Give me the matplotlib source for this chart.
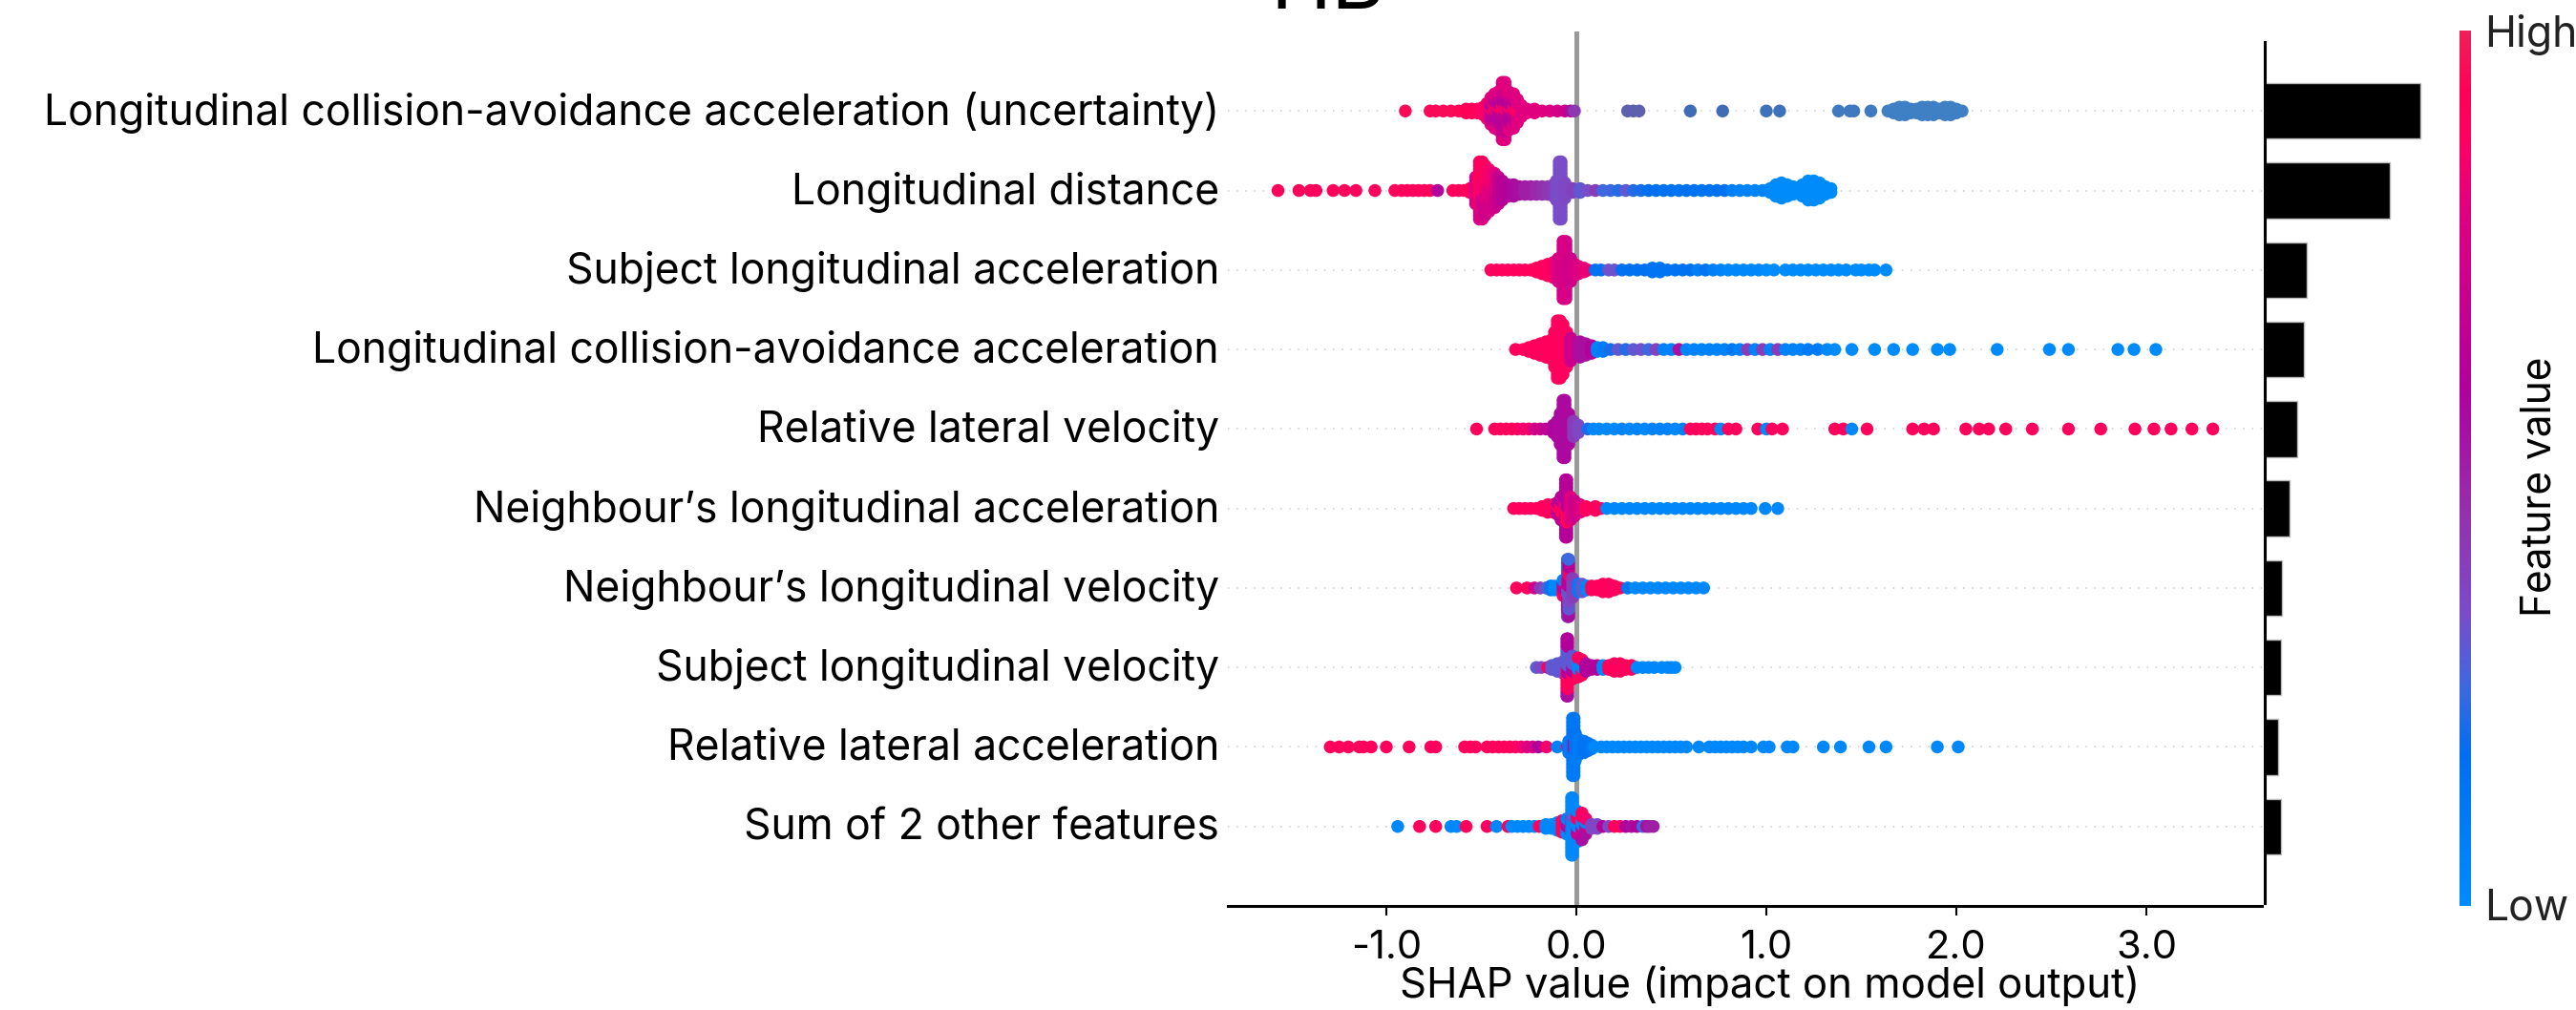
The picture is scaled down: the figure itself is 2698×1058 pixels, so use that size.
import matplotlib
matplotlib.use("Agg")
import matplotlib.pyplot as plt
import numpy as np
from matplotlib.cm import ScalarMappable
from matplotlib.colors import LinearSegmentedColormap
from matplotlib.transforms import ScaledTranslation

W, H = 2698, 1058
DPI = 100

plt.rcParams["font.family"] = ["Inter", "DejaVu Sans"]

features = [
    "Longitudinal collision-avoidance acceleration (uncertainty)",
    "Longitudinal distance",
    "Subject longitudinal acceleration",
    "Longitudinal collision-avoidance acceleration",
    "Relative lateral velocity",
    "Neighbour’s longitudinal acceleration",
    "Neighbour’s longitudinal velocity",
    "Subject longitudinal velocity",
    "Relative lateral acceleration",
    "Sum of 2 other features",
]
mean_abs_shap = [0.82, 0.66, 0.22, 0.206, 0.17, 0.13, 0.089, 0.084, 0.069, 0.084]
x_ticks = [-1.0, 0.0, 1.0, 2.0, 3.0]
x_tick_labels = ["-1.0", "0.0", "1.0", "2.0", "3.0"]

# each swarm: SHAP value of a column, points in that column, feature value
# (a list of feature values runs from the bottom of the column to the top)
r1_mix = [0.8, 0.68, 0.62, 0.66, 0.85, 0.62, 0.72, 0.8]
r1_x = [-0.90, -0.77, -0.74, -0.70, -0.66, -0.62, -0.58, -0.55, -0.52, -0.49, -0.47, -0.45, -0.43, -0.41,
        -0.39, -0.375, -0.355, -0.33, -0.31, -0.29, -0.26, -0.22, -0.18, -0.14, -0.10, -0.06, -0.03, -0.01]
r1_n = [1, 1, 1, 1, 1, 1, 2, 2, 2, 3, 5, 8, 10, 11, 16, 16, 11, 10, 7, 4, 2, 2, 1, 1, 1, 1, 1, 1]
r1_f = [0.95, 0.95, 0.95, 0.95, 0.95, 0.94, 0.93, 0.92, 0.9, 0.88, 0.85, r1_mix, r1_mix, r1_mix,
        r1_mix, r1_mix, r1_mix, r1_mix, [0.8, 0.9, 0.8], 0.8, 0.8, 0.8, 0.8, 0.78, 0.75, 0.7, 0.55, 0.42]

# far right of the top row has a duller blue than the colour scale
r1b_x = [0.27, 0.30, 0.33, 0.60, 0.77, 1.00, 1.07, 1.38, 1.44, 1.46, 1.55, 1.64, 1.67, 1.70, 1.73, 1.76,
         1.79, 1.82, 1.85, 1.88, 1.91, 1.94, 1.97, 2.00, 2.03]
r1b_n = [1, 1, 1, 1, 1, 1, 1, 1, 1, 1, 1, 1, 2, 3, 3, 2, 2, 3, 3, 3, 2, 3, 3, 2, 1]
r1b_c = ["#5d60ac", "#5d60ac", "#5d60ac", "#3f6cb4", "#3f6cb4", "#3d72ba", "#3d72ba", "#3f7ac0", "#3f7ac0",
         "#3f7ac0", "#3f7ac0", "#3f7fc4", "#3f7fc4", "#3f7fc4", "#3f7fc4", "#3f7fc4", "#3f7fc4", "#3f7fc4",
         "#3f7fc4", "#3f7fc4", "#3f7fc4", "#3f7fc4", "#3f7fc4", "#3f7fc4", "#3f7fc4"]

r2_x = [-1.57, -1.46, -1.40, -1.37, -1.28, -1.22, -1.16, -1.06, -0.955, -0.92, -0.89, -0.86, -0.83, -0.80,
        -0.77, -0.73, -0.65, -0.62, -0.59, -0.56, -0.53, -0.51, -0.495, -0.48, -0.46, -0.43, -0.41, -0.39,
        -0.36, -0.33, -0.30, -0.27, -0.24, -0.21, -0.18, -0.15, -0.12, -0.105, -0.09, -0.08, -0.06, -0.02,
        0.02, 0.06, 0.10, 0.14, 0.18, 0.22, 0.26, 0.30, 0.34, 0.38, 0.42, 0.46, 0.50, 0.54, 0.58, 0.62,
        0.66, 0.70, 0.74, 0.78, 0.82, 0.86, 0.90, 0.94, 0.98, 1.02, 1.05, 1.08, 1.11, 1.14, 1.16, 1.19,
        1.22, 1.25, 1.28, 1.31, 1.34]
r2_n = [1, 1, 1, 1, 1, 1, 1, 1, 1, 1, 1, 1, 1, 1, 1, 1, 1, 1, 1, 2, 8, 16, 16, 14, 12, 10, 8, 6, 4, 4, 3, 3,
        3, 3, 3, 3, 4, 6, 16, 16, 5, 2, 2, 1, 1, 1, 1, 1, 1, 1, 1, 1, 1, 1, 1, 1, 1, 1, 1, 1, 1, 1, 1, 1,
        1, 1, 1, 2, 4, 5, 4, 3, 2, 4, 6, 6, 5, 3, 2]
r2_f = [0.9, 0.9, 0.9, 0.9, 0.9, 0.9, 0.9, 0.9, 0.9, 0.9, 0.9, 0.9, 0.9, 0.9, 0.9, 0.6, 0.9, 0.9, 0.9, 0.9,
        0.8, [0.78, 0.84, 0.88, 0.9, 0.9], [0.78, 0.72, 0.85, 0.9, 0.9], [0.72, 0.78, 0.85, 0.9], [0.75, 0.8, 0.85],
        [0.72, 0.8], 0.68, 0.62, 0.6, 0.56, 0.55, 0.5, 0.5, 0.47, 0.45, 0.42, 0.4, 0.34, 0.335, 0.335, 0.35, 0.38,
        0.3, 0.33, 0.4, 0.25, 0.25, 0.22, 0.3, 0.22, 0.2, 0.17, 0.16, 0.15, 0.15, 0.14, 0.15, 0.15, 0.14, 0.15,
        0.15, 0.15, 0.08, 0.05, 0.05, 0.04, 0.04, 0.02, 0.0, 0.0, 0.0, 0.0, 0.0, 0.0, 0.0, 0.0, 0.0, 0.0, 0.0]

r3_x = [-0.45, -0.42, -0.39, -0.36, -0.33, -0.30, -0.27, -0.24, -0.21, -0.18, -0.15, -0.12, -0.095, -0.07,
        -0.055, -0.03, -0.01, 0.01, 0.04, 0.06, 0.10, 0.13, 0.17, 0.20, 0.24, 0.28, 0.32, 0.36, 0.40, 0.44,
        0.48, 0.52, 0.56, 0.60, 0.64, 0.68, 0.72, 0.76, 0.80, 0.84, 0.88, 0.92, 0.96, 1.00, 1.04, 1.10, 1.14,
        1.18, 1.22, 1.26, 1.30, 1.34, 1.38, 1.42, 1.47, 1.50, 1.54, 1.57, 1.63]
r3_n = [1, 1, 1, 1, 1, 1, 1, 1, 2, 3, 4, 5, 7, 16, 16, 7, 4, 3, 2, 1, 1, 1, 1, 1, 1, 1, 1, 1, 2, 2, 1, 1, 1,
        1, 1, 1, 1, 1, 1, 1, 1, 1, 1, 1, 1, 1, 1, 1, 1, 1, 1, 1, 1, 1, 1, 1, 1, 1, 1]
r3_f = [0.9, 0.9, 0.9, 0.9, 0.9, 0.9, 0.9, 0.9, 0.9, 0.9, 0.88, 0.85, 0.75, 0.75, 0.75, 0.72, 0.75, 0.78, 0.82,
        0.82, 0.15, 0.15, 0.32, 0.32, 0.15, 0.16, 0.15, 0.15, 0.14, 0.14, 0.14, 0.14, 0.15, 0.15, 0.08, 0.14, 0.08,
        0.05, 0.02, 0.02, 0.02, 0.02, 0.02, 0.0, 0.0, 0.0, 0.0, 0.0, 0.0, 0.0, 0.0, 0.0, 0.0, 0.0, 0.0, 0.0, 0.0,
        0.0, 0.0]

r4_x = [-0.32, -0.28, -0.25, -0.22, -0.19, -0.16, -0.13, -0.115, -0.10, -0.085, -0.07, -0.05, -0.03, 0.02, 0.05,
        0.08, 0.11, 0.14, 0.18, 0.22, 0.26, 0.30, 0.34, 0.38, 0.42, 0.46, 0.50, 0.54, 0.58, 0.62, 0.66, 0.70, 0.74,
        0.78, 0.82, 0.86, 0.90, 0.94, 0.98, 1.02, 1.06, 1.10, 1.14, 1.18, 1.22, 1.27, 1.32, 1.36, 1.45, 1.57, 1.67,
        1.77, 1.90, 1.965, 2.215, 2.49, 2.59, 2.85, 2.935, 3.05]
r4_n = [1, 1, 2, 3, 4, 5, 6, 10, 16, 16, 14, 10, 7, 5, 4, 3, 2, 2, 1, 1, 1, 1, 1, 1, 1, 1, 1, 1, 1, 1, 1, 1, 1,
        1, 1, 1, 1, 1, 1, 1, 1, 1, 1, 1, 1, 1, 1, 1, 1, 1, 1, 1, 1, 1, 1, 1, 1, 1, 1, 1]
r4_f = [0.9, 0.9, 0.9, 0.9, 0.9, 0.9, 0.9, 0.9, 0.9, 0.9, 0.9, 0.88, 0.7, 0.55, 0.55, 0.6, 0.05, 0.1, 0.2, 0.3,
        0.22, 0.3, 0.32, 0.25, 0.38, 0.05, 0.05, 0.55, 0.05, 0.05, 0.05, 0.05, 0.05, 0.05, 0.12, 0.05, 0.4, 0.05, 0.4,
        0.05, 0.4, 0.05, 0.05, 0.05, 0.1, 0.1, 0.02, 0.0, 0.0, 0.0, 0.0, 0.0, 0.0, 0.0, 0.0, 0.0, 0.0, 0.0, 0.0, 0.0]

r5_x = [-0.525, -0.43, -0.40, -0.37, -0.34, -0.31, -0.28, -0.25, -0.22, -0.19, -0.16, -0.12, -0.10, -0.085, -0.07,
        -0.06, -0.04, -0.015, 0.01, 0.06, 0.09, 0.12, 0.16, 0.20, 0.24, 0.28, 0.32, 0.36, 0.40, 0.44, 0.48, 0.52, 0.56,
        0.60, 0.63, 0.66, 0.69, 0.73, 0.76, 0.80, 0.84, 0.955, 1.00, 1.03, 1.085, 1.36, 1.405, 1.45, 1.53, 1.77, 1.83,
        1.88, 2.05, 2.12, 2.17, 2.26, 2.40, 2.59, 2.76, 2.94, 3.04, 3.13, 3.24, 3.35]
r5_n = [1, 1, 1, 1, 1, 1, 1, 1, 1, 1, 1, 3, 5, 9, 16, 16, 9, 5, 3, 1, 1, 1, 1, 1, 1, 1, 1, 1, 1, 1, 1, 1, 1, 1,
        1, 1, 1, 1, 1, 1, 1, 1, 1, 1, 1, 1, 1, 1, 1, 1, 1, 1, 1, 1, 1, 1, 1, 1, 1, 1, 1, 1, 1, 1]
r5_f = [0.9, 0.9, 0.9, 0.9, 0.9, 0.88, 0.85, 0.85, 0.75, 0.7, 0.65, 0.6, 0.57, 0.57, 0.57, 0.57, 0.57, 0.4, 0.35,
        0.2, 0.02, 0.02, 0.02, 0.02, 0.05, 0.02, 0.05, 0.02, 0.05, 0.05, 0.05, 0.02, 0.05, 0.9, 0.9, 0.9, 0.9, 0.9,
        0.02, 0.9, 0.9, 0.9, 0.02, 0.9, 0.9, 0.9, 0.9, 0.02, 0.9, 0.9, 0.9, 0.9, 0.9, 0.9, 0.9, 0.9, 0.9, 0.9, 0.9,
        0.9, 0.9, 0.9, 0.9, 0.9]

r6_x = [-0.33, -0.30, -0.27, -0.24, -0.21, -0.18, -0.15, -0.12, -0.10, -0.08, -0.057, -0.05, -0.03, -0.01, 0.02,
        0.05, 0.10, 0.13, 0.16, 0.20, 0.24, 0.28, 0.32, 0.36, 0.40, 0.44, 0.48, 0.52, 0.56, 0.60, 0.64, 0.68, 0.72,
        0.76, 0.80, 0.84, 0.88, 0.92, 0.994, 1.06]
r6_n = [1, 1, 1, 1, 1, 2, 3, 3, 4, 7, 16, 16, 7, 5, 3, 2, 2, 1, 1, 1, 1, 1, 1, 1, 1, 1, 1, 1, 1, 1, 1, 1, 1, 1, 1,
        1, 1, 1, 1, 1]
r6_f = [0.9, 0.9, 0.9, 0.9, 0.9, 0.9, 0.9, 0.9, [0.62, 0.9, 0.62], [0.62, 0.9, 0.9, 0.65, 0.62], [0.62, 0.7, 0.9, 0.62, 0.62],
        [0.62, 0.9, 0.62, 0.62], 0.8, 0.72, 0.78, 0.9, 0.9, 0.9, 0.02, 0.02, 0.02, 0.02, 0.02, 0.02, 0.02, 0.02, 0.02,
        0.02, 0.02, 0.02, 0.02, 0.02, 0.02, 0.02, 0.02, 0.02, 0.02, 0.02, 0.02, 0.02]

r7_x = [-0.315, -0.26, -0.22, -0.19, -0.16, -0.135, -0.115, -0.07, -0.047, -0.04, -0.02, 0.01, 0.03, 0.055, 0.08,
        0.11, 0.14, 0.17, 0.20, 0.23, 0.27, 0.31, 0.35, 0.39, 0.43, 0.47, 0.51, 0.55, 0.59, 0.63, 0.67]
r7_n = [1, 1, 1, 1, 1, 2, 2, 5, 16, 16, 6, 3, 3, 2, 2, 2, 3, 3, 2, 1, 1, 1, 1, 1, 1, 1, 1, 1, 1, 1, 1]
r7_f = [0.9, 0.9, 0.72, 0.4, 0.3, 0.12, 0.02, [0.9, 0.65, 0.05], [0.3, 0.6, 0.55, 0.35, 0.62, 0.85, 0.2, 0.05, 0.25],
        [0.55, 0.3, 0.35, 0.3, 0.62, 0.62, 0.85, 0.62, 0.25], 0.4, 0.1, 0.3, 0.02, 0.9, 0.9, 0.9, 0.9, 0.88, 0.9, 0.12,
        0.02, 0.02, 0.02, 0.02, 0.02, 0.02, 0.02, 0.02, 0.02, 0.02]

r8_x = [-0.21, -0.185, -0.15, -0.13, -0.10, -0.07, -0.05, -0.045, -0.02, 0.01, 0.03, 0.05, 0.08, 0.11, 0.14, 0.17,
        0.20, 0.23, 0.26, 0.29, 0.32, 0.35, 0.38, 0.41, 0.45, 0.48, 0.50, 0.52]
r8_n = [1, 1, 1, 2, 3, 4, 16, 16, 7, 6, 5, 3, 2, 2, 2, 2, 3, 3, 2, 2, 1, 1, 1, 1, 1, 1, 1, 1]
r8_f = [0.3, 0.35, 0.9, 0.3, 0.3, 0.3, [0.55, 0.9, 0.9, 0.9, 0.3, 0.3, 0.3, 0.6, 0.6], [0.55, 0.9, 0.9, 0.6, 0.3, 0.3, 0.3, 0.6, 0.6],
        [0.9, 0.6, 0.3, 0.3], [0.9, 0.02, 0.02, 0.9], [0.9, 0.02, 0.9], 0.6, 0.6, 0.6, 0.02, 0.9, 0.9, 0.9, 0.9, 0.9, 0.02,
        0.02, 0.02, 0.02, 0.02, 0.02, 0.02, 0.02]

r9_x = [-1.295, -1.248, -1.20, -1.143, -1.12, -1.08, -1.0, -0.88, -0.766, -0.74, -0.588, -0.558, -0.53, -0.47, -0.44,
        -0.41, -0.38, -0.35, -0.32, -0.29, -0.26, -0.23, -0.20, -0.157, -0.10, -0.047, -0.04, -0.02, -0.012, -0.005, 0.012,
        0.04, 0.06, 0.08, 0.095, 0.13, 0.16, 0.19, 0.22, 0.25, 0.28, 0.31, 0.34, 0.37, 0.40, 0.43, 0.46, 0.49, 0.52, 0.55,
        0.58, 0.645, 0.70, 0.73, 0.76, 0.79, 0.82, 0.85, 0.88, 0.92, 0.985, 1.015, 1.11, 1.14, 1.30, 1.39, 1.54, 1.63, 1.90,
        2.01]
r9_n = [1, 1, 1, 1, 1, 1, 1, 1, 1, 1, 1, 1, 1, 1, 1, 1, 1, 1, 1, 1, 1, 1, 1, 1, 1, 1, 4, 16, 16, 8, 5, 4, 3, 2, 1,
        1, 1, 1, 1, 1, 1, 1, 1, 1, 1, 1, 1, 1, 1, 1, 1, 1, 1, 1, 1, 1, 1, 1, 1, 1, 1, 1, 1, 1, 1, 1, 1, 1, 1, 1]
r9_f = [0.9, 0.9, 0.9, 0.9, 0.9, 0.9, 0.9, 0.9, 0.9, 0.9, 0.9, 0.9, 0.9, 0.9, 0.9, 0.9, 0.9, 0.9, 0.88, 0.85, 0.8, 0.75,
        0.6, 0.85, 0.05, 0.9, 0.1, [0.1, 0.12, 0.14, 0.12, 0.1], [0.1, 0.14, 0.7, 0.14, 0.12], [0.08, 0.14, 0.14, 0.14],
        0.1, 0.14, 0.14, 0.1, 0.02, 0.02, 0.02, 0.02, 0.02, 0.02, 0.02, 0.02, 0.02, 0.02, 0.02, 0.02, 0.02, 0.02, 0.02, 0.02,
        0.02, 0.02, 0.02, 0.02, 0.02, 0.02, 0.02, 0.02, 0.02, 0.02, 0.02, 0.02, 0.02, 0.02, 0.02, 0.02, 0.02, 0.02, 0.02, 0.02]

r10_x = [-0.94, -0.825, -0.74, -0.66, -0.63, -0.58, -0.47, -0.42, -0.36, -0.34, -0.31, -0.28, -0.25, -0.22, -0.195, -0.16,
         -0.13, -0.10, -0.075, -0.05, -0.025, -0.02, 0.005, 0.03, 0.05, 0.08, 0.11, 0.14, 0.17, 0.20, 0.23, 0.26, 0.29, 0.32,
         0.35, 0.37, 0.385, 0.405]
r10_n = [1, 1, 1, 1, 1, 1, 1, 1, 1, 1, 1, 1, 1, 1, 1, 2, 2, 3, 4, 5, 16, 16, 9, 8, 5, 2, 2, 1, 1, 1, 1, 1, 1, 1, 1, 1, 1, 1]
r10_f = [0.02, 0.9, 0.9, 0.02, 0.02, 0.9, 0.9, 0.02, 0.9, 0.02, 0.02, 0.02, 0.02, 0.02, 0.9, 0.02, 0.02, 0.02, 0.88,
         [0.02, 0.55, 0.05], [0.02, 0.02, 0.1, 0.45, 0.02, 0.02], [0.02, 0.02, 0.02, 0.02, 0.28, 0.02, 0.02],
         [0.02, 0.7, 0.02, 0.9, 0.02], [0.55, 0.7, 0.02, 0.9], [0.55, 0.72, 0.02, 0.85], 0.35, 0.35, 0.62, 0.35, 0.9, 0.9,
         0.6, 0.55, 0.6, 0.25, 0.55, 0.5, 0.5]

swarms = [
    (r1_x, r1_n, r1_f), (r2_x, r2_n, r2_f), (r3_x, r3_n, r3_f), (r4_x, r4_n, r4_f), (r5_x, r5_n, r5_f),
    (r6_x, r6_n, r6_f), (r7_x, r7_n, r7_f), (r8_x, r8_n, r8_f), (r9_x, r9_n, r9_f), (r10_x, r10_n, r10_f),
]

cmap = LinearSegmentedColormap.from_list("feature", [
    (0.0, "#008bfb"), (0.17, "#006ef0"), (0.25, "#3d68e0"), (0.335, "#7b4bc8"), (0.45, "#9530ac"),
    (0.59, "#b0009b"), (0.8, "#e0007f"), (0.88, "#ff0060"), (0.93, "#ff0057"), (1.0, "#ee1f5a"),
])


def px_axes(left, top, right, bottom):
    return fig.add_axes([left / W, 1 - bottom / H, (right - left) / W, (bottom - top) / H])


def column_points(x, n, f, pos):
    # stack the points of one column around the row line
    xs, ys, cs = [], [], []
    for xi, ni, fi in zip(x, n, f, strict=True):
        vals = fi if isinstance(fi, list) else [fi]
        for k in range(ni):
            xs.append(xi)
            ys.append(pos + (k - (ni - 1) / 2) * STACK)
            cs.append(vals[k * len(vals) // ni])
    return xs, ys, cs


STACK = 0.048
DOT = 94

fig = plt.figure(figsize=(W / DPI, H / DPI), dpi=DPI)

ax = px_axes(1286, 33, 2369, 949)
ax.set_xlim(-1.834, 3.608)
ax.set_ylim(-1, 10)
positions = [9 - i for i in range(len(features))]

ax.axvline(0, color="#999999", lw=3.6, zorder=-1)
for pos in positions:
    ax.axhline(pos, color="#cccccc", lw=1.1, dashes=(1, 5), zorder=-1)

for (x, n, f), pos in zip(swarms, positions):
    xs, ys, cs = column_points(x, n, f, pos)
    ax.scatter(xs, ys, c=cs, cmap=cmap, vmin=0, vmax=1, s=DOT, linewidths=0, zorder=3)

far_y, far_x, far_c = [], [], []
for xi, ni, ci in zip(r1b_x, r1b_n, r1b_c, strict=True):
    for k in range(ni):
        far_x.append(xi)
        far_y.append(positions[0] + (k - (ni - 1) / 2) * STACK)
        far_c.append(ci)
ax.scatter(far_x, far_y, c=far_c, s=DOT, linewidths=0, zorder=3)

for side in ["top", "right", "left"]:
    ax.spines[side].set_visible(False)
ax.spines["bottom"].set_linewidth(2.2)
ax.set_yticks(positions)
ax.set_yticklabels(features, fontsize=32)
ax.tick_params(axis="y", length=0, pad=6.5)
shift_up = ScaledTranslation(0, 3 / DPI, fig.dpi_scale_trans)
for label in ax.get_yticklabels():
    label.set_transform(label.get_transform() + shift_up)
ax.set_xticks(x_ticks)
ax.set_xticklabels(x_tick_labels, fontsize=30)
ax.tick_params(axis="x", length=7, width=1.5, pad=11)
ax.set_xlabel("SHAP value (impact on model output)", fontsize=31.5)
ax.xaxis.set_label_coords(0.5245, -0.0917)
ax.xaxis.label.set_va("center")

bx = px_axes(2372, 33, 2555, 949)
bx.set_xlim(0, 183 / 199)
bx.set_ylim(-1, 10)
bx.barh(positions, mean_abs_shap, height=0.7, color="black", edgecolor="#bbbbbb", linewidth=1)
for side in ["top", "right", "bottom"]:
    bx.spines[side].set_visible(False)
bx.spines["left"].set_linewidth(2.2)
bx.spines["left"].set_bounds(-0.96, 9.87)
bx.set_xticks([])
bx.set_yticks([])
bx.patch.set_alpha(0)

cax = px_axes(2576, 32, 2588, 949)
cbar = fig.colorbar(ScalarMappable(cmap=cmap), cax=cax)
cbar.set_ticks([])
cbar.outline.set_visible(False)

fig.text(2602 / W, 1 - 37 / H, "High", fontsize=32, va="center", ha="left", color="#222222")
fig.text(2602 / W, 1 - 951 / H, "Low", fontsize=32, va="center", ha="left", color="#222222")
fig.text(2660 / W, 1 - 510 / H, "Feature value", fontsize=30.5, rotation=90, va="center", ha="center")
fig.text(1391 / W, 1 - 9 / H, "HB", fontsize=62, va="baseline", ha="center")

fig.savefig("out.png", dpi=DPI)
